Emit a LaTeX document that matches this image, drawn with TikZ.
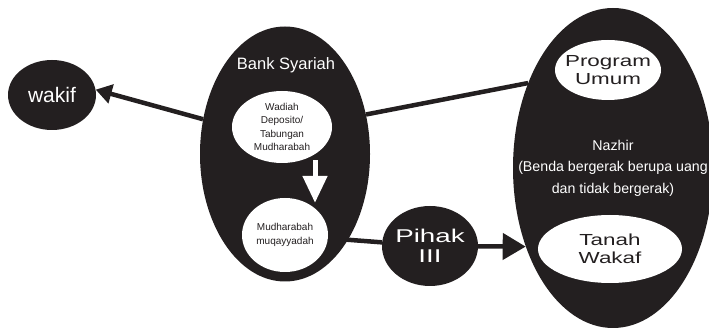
\documentclass[tikz,border=0pt]{standalone}
\usepackage{fontspec}
\setmainfont{Liberation Sans}
\newfontfamily\widefont[FakeStretch=1.4]{Liberation Sans}
\newfontfamily\widerfont[FakeStretch=1.5]{Liberation Sans}
\usepackage{tikz}
\usetikzlibrary{shapes.geometric, arrows.meta, positioning}
\definecolor{ink}{HTML}{231F20}

\begin{document}
\begin{tikzpicture}[
  x=1pt, y=-1pt,
  blob/.style={ellipse, fill=ink, text=white, inner sep=0pt, align=center},
  hole/.style={ellipse, fill=white, text=ink, inner sep=0pt, align=center},
  link/.style={draw=ink, line width=4.5pt},
  small/.style={font=\fontsize{10}{13.5}\selectfont}
]
\useasboundingbox (0,0) rectangle (709,328);

\node[blob, minimum width=88pt, minimum height=70pt,
  font=\fontsize{21}{24}\selectfont] (wakif) at (52,95) {wakif};

\node[blob, minimum width=170pt, minimum height=255pt] (bank) at (285,154) {};
\node[text=white, font=\fontsize{16.5}{19}\selectfont] (banktext) at (286,65) {Bank Syariah};
\node[hole, small, minimum width=100pt, minimum height=72pt] (wadiah) at (282,127)
  {Wadiah\\Deposito/\\Tabungan\\Mudharabah};
\node[hole, small, minimum width=86pt, minimum height=74pt] (muqayyadah) at (285,235)
  {Mudharabah\\muqayyadah};

\node[blob, minimum width=96pt, minimum height=80pt] (pihak) at (430,246) {};
\node[text=white, align=center, font=\widerfont\fontsize{18.5}{20}\selectfont]
  (pihaktext) at (pihak) {Pihak\\III};

\node[blob, minimum width=200pt, minimum height=320pt] (nazhir) at (613,168) {};
\node[hole, minimum width=106pt, minimum height=60pt] (program) at (608,70) {};
\node[text=ink, align=center, font=\widefont\fontsize{16}{18}\selectfont]
  (programtext) at (program) {Program\\Umum};
\node[hole, minimum width=144pt, minimum height=68pt,
  font=\widefont\fontsize{16}{18}\selectfont] (tanah) at (610,249) {Tanah\\Wakaf};
\node[text=white, align=center, font=\fontsize{14.2}{21.5}\selectfont]
  (nazhirtext) at (613,168) {Nazhir\\(Benda bergerak berupa uang\\dan tidak bergerak)};

% connectors
\draw[link, -{Triangle[length=16pt,width=19pt]}] (bank.157) -- (wakif.7);
\draw[link] (bank.26) -- (nazhir.135);
\draw[link] (muqayyadah) -- (pihak);
\draw[link, -{Triangle[length=23pt,width=26pt]}] (pihak) -- (nazhir.222);
\draw[white, line width=5pt, -{Triangle[length=27pt,width=24pt]}]
  ([xshift=33pt,yshift=3pt]wadiah.south) -- ([xshift=30pt,yshift=-5pt]muqayyadah.north);
\end{tikzpicture}
\end{document}
